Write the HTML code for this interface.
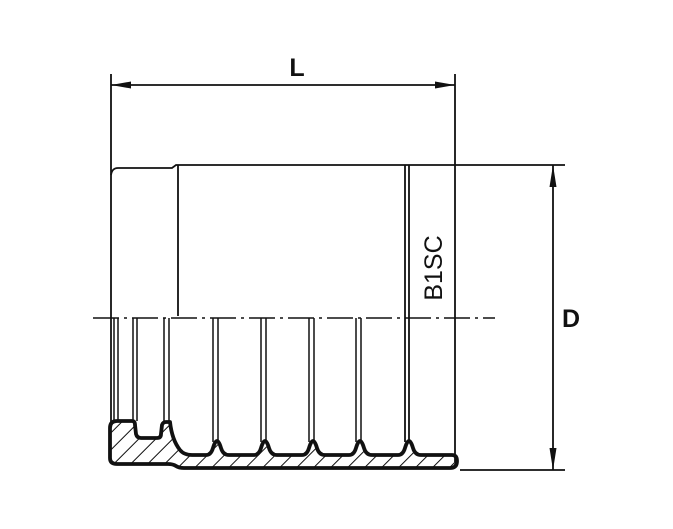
<!DOCTYPE html>
<html><head><style>body{margin:0;background:#fff}svg{display:block}</style></head><body>
<svg width="673" height="529" viewBox="0 0 673 529" xmlns="http://www.w3.org/2000/svg">
<defs>
<pattern id="h" patternUnits="userSpaceOnUse" width="12" height="12" patternTransform="rotate(45)">
<line x1="0" y1="0" x2="0" y2="12" stroke="#111" stroke-width="2"/>
</pattern>
</defs>
<g fill="none" stroke="#111" stroke-width="1.8">
<line x1="111" y1="74" x2="111" y2="425"/>
<line x1="455" y1="74" x2="455" y2="462"/>
<line x1="111" y1="85" x2="455" y2="85"/>
<path d="M111,175 Q112,168 118,168 L172,168 L176,165 L455,165"/>
<line x1="178" y1="165" x2="178" y2="316"/>
<line x1="405" y1="165" x2="405" y2="442"/>
<line x1="409" y1="165" x2="409" y2="442"/>
<line x1="455" y1="165" x2="565" y2="165"/>
<line x1="460" y1="470" x2="565" y2="470"/>
<line x1="553" y1="165" x2="553" y2="470"/>
<line x1="93" y1="318" x2="495" y2="318" stroke-width="1.5" stroke-dasharray="26,5,3,5"/>
<g stroke-width="1.5">
<line x1="114" y1="318" x2="114" y2="421"/><line x1="118" y1="318" x2="118" y2="421"/>
<line x1="133" y1="318" x2="133" y2="421"/><line x1="137" y1="318" x2="137" y2="421"/>
<line x1="164" y1="318" x2="164" y2="421"/><line x1="169" y1="318" x2="169" y2="421"/>
<line x1="213" y1="318" x2="213" y2="442"/><line x1="218" y1="318" x2="218" y2="442"/>
<line x1="261" y1="318" x2="261" y2="442"/><line x1="266" y1="318" x2="266" y2="442"/>
<line x1="309" y1="318" x2="309" y2="442"/><line x1="314" y1="318" x2="314" y2="442"/>
<line x1="356" y1="318" x2="356" y2="442"/><line x1="361" y1="318" x2="361" y2="442"/>
</g>
</g>
<g fill="#111">
<polygon points="111,85 131,81.5 131,88.5"/>
<polygon points="455,85 435,81.5 435,88.5"/>
<polygon points="553,165 549.5,187 556.5,187"/>
<polygon points="553,470 549.5,448 556.5,448"/>
</g>
<path d="M110,428 Q110,421 117,421 L132,421 Q135,421 135,425 L136,434 Q137,438 141,438 L157,438 Q161,438 161,434 L162,425 Q163,422 166,422 L170,422 Q172,440 180,450 Q184,455 192,455 L206,455 Q211,455 213,448 Q215,441 217,441 Q219,441 221,448 Q223,455 229,455 L254,455 Q259,455 261,448 Q263,441 265,441 Q267,441 269,448 Q271,455 277,455 L302,455 Q307,455 309,448 Q311,441 313,441 Q315,441 317,448 Q319,455 325,455 L349,455 Q354,455 356,448 Q358,441 360,441 Q362,441 364,448 Q366,455 372,455 L398,455 Q403,455 405,448 Q407,441 409,441 Q411,441 413,448 Q415,455 421,455 L452,455 Q457,455 457,461 Q457,468 450,468 L184,468 Q179,468 176,466 Q173,464 168,464 L117,464 Q110,464 110,458 Z" fill="url(#h)" stroke="#111" stroke-width="3.8" stroke-linejoin="round"/>
<g font-family="Liberation Sans, sans-serif" fill="#111">
<text x="297" y="76" font-size="25" font-weight="bold" text-anchor="middle">L</text>
<text x="571" y="327" font-size="25" font-weight="bold" text-anchor="middle">D</text>
<text transform="translate(442,268) rotate(-90)" font-size="25" text-anchor="middle">B1SC</text>
</g>
</svg>
</body></html>
